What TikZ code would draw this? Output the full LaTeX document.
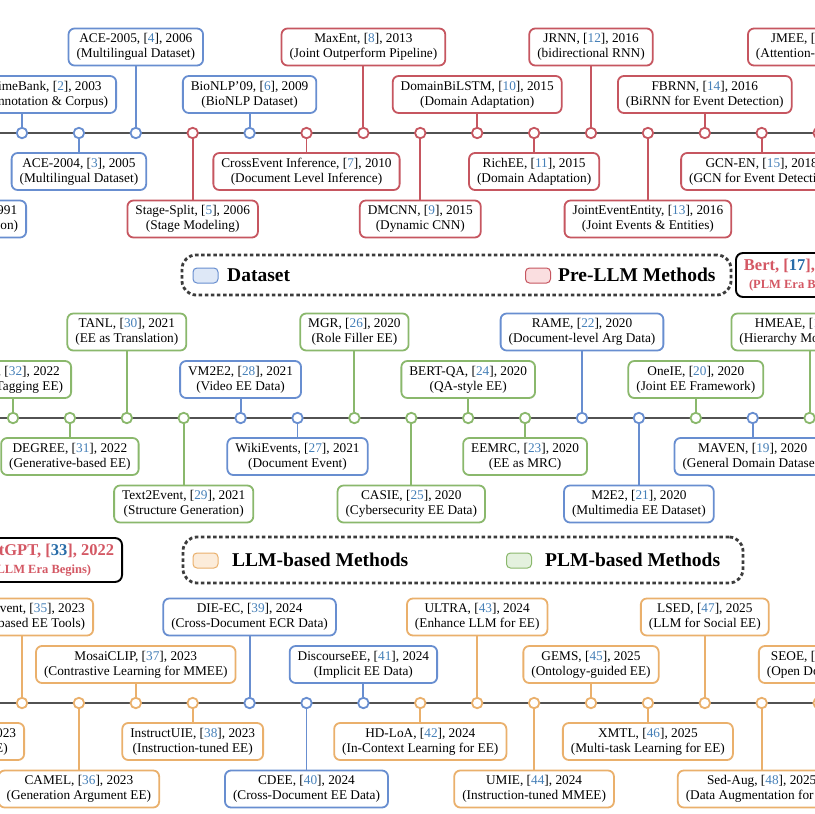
\documentclass[tikz,border=0pt]{standalone}
\usepackage{fontspec}
\setmainfont{Liberation Serif}
\definecolor{bluec}{RGB}{104,142,208}
\definecolor{redc}{RGB}{198,86,96}
\definecolor{greenc}{RGB}{138,184,108}
\definecolor{orangec}{RGB}{234,176,108}
\definecolor{bluefill}{RGB}{222,232,247}
\definecolor{redfill}{RGB}{250,222,224}
\definecolor{greenfill}{RGB}{228,241,222}
\definecolor{orangefill}{RGB}{252,236,218}
\definecolor{citec}{RGB}{70,128,184}
\definecolor{citedark}{RGB}{40,108,168}
\definecolor{redtxt}{RGB}{212,88,100}
\definecolor{linec}{RGB}{82,82,82}
\definecolor{legc}{RGB}{60,60,60}
\newcommand\evfont{\fontsize{13.3}{15.2}\selectfont}
\newcommand\cn[1]{[\textcolor{citec}{#1}]}
% name, dotx, liney, dy, colour, extra options, box x, text, anchor
\newcommand\ev[9]{%
  \node[evbox=#5,#6] (#1) at ({#7},{#3+(#4)}) {#8};
  \node[evdot=#5] (#1d) at ({#2},{#3}) {};
  \draw[conn=#5] (#1d) -- (#1d |- #1.#9);
}
\newcommand\evN[7]{\ev{#1}{#2}{#3}{#4}{#5}{}{#2}{#6}{#7}}
\tikzset{
  evbox/.style={draw=#1, line width=1.8pt, rounded corners=6pt, fill=white,
    align=center, inner xsep=8pt, inner ysep=0pt, minimum height=37pt, font=\evfont},
  evdot/.style={circle, draw=#1, line width=1.8pt, fill=white, inner sep=0pt, minimum size=10.5pt},
  conn/.style={draw=#1, line width=1.9pt},
  tline/.style={draw=linec, line width=2.3pt},
  legbox/.style={draw=legc, line width=2.8pt, dash pattern=on 3.5pt off 2.6pt, rounded corners=14pt},
  swatch/.style={draw=#1, line width=1pt, rounded corners=4pt, minimum width=25pt, minimum height=15pt, inner sep=0pt},
  legtext/.style={font=\bfseries\fontsize{19.5}{22}\selectfont, inner sep=0pt, anchor=west},
  erabox/.style={draw=black, line width=1.9pt, rounded corners=7pt, align=center,
    inner xsep=8pt, inner ysep=0pt, minimum height=44pt, font=\bfseries\fontsize{16.5}{19}\selectfont},
}
\begin{document}
\begin{tikzpicture}[x=1pt,y=-1pt]
\useasboundingbox (0,0) rectangle (815,814);
\fill[white] (0,0) rectangle (815,814);
\clip (0,0) rectangle (815,814);
% timelines
\coordinate (a1) at (-120,133); \coordinate (b1) at (935,133);
\coordinate (a2) at (-120,418); \coordinate (b2) at (935,418);
\coordinate (a3) at (-120,703); \coordinate (b3) at (935,703);
\draw[tline] (a1) -- (b1);
\draw[tline] (a2) -- (b2);
\draw[tline] (a3) -- (b3);
% ---------- row 1 ----------
\ev{muc}{-34.9}{133}{86}{bluec}{anchor=east}{27}{MUC-3, \cn{1}, 1991\\(Event Extraction)}{north}
\ev{timebank}{22}{133}{-38.5}{bluec}{anchor=east}{117}{TimeBank, \cn{2}, 2003\\(Annotation \& Corpus)}{south}
\evN{acefour}{78.9}{133}{38.5}{bluec}{ACE-2004, \cn{3}, 2005\\(Multilingual Dataset)}{north}
\evN{acefive}{135.8}{133}{-86}{bluec}{ACE-2005, \cn{4}, 2006\\(Multilingual Dataset)}{south}
\evN{stage}{192.7}{133}{86}{redc}{Stage-Split, \cn{5}, 2006\\(Stage Modeling)}{north}
\evN{bionlp}{249.6}{133}{-38.5}{bluec}{BioNLP'09, \cn{6}, 2009\\(BioNLP Dataset)}{south}
\evN{crossev}{306.5}{133}{38.5}{redc}{CrossEvent Inference, \cn{7}, 2010\\(Document Level Inference)}{north}
\evN{maxent}{363.4}{133}{-86}{redc}{MaxEnt, \cn{8}, 2013\\(Joint Outperform Pipeline)}{south}
\evN{dmcnn}{420.3}{133}{86}{redc}{DMCNN, \cn{9}, 2015\\(Dynamic CNN)}{north}
\evN{dombil}{477.2}{133}{-38.5}{redc}{DomainBiLSTM, \cn{10}, 2015\\(Domain Adaptation)}{south}
\evN{richee}{534.1}{133}{38.5}{redc}{RichEE, \cn{11}, 2015\\(Domain Adaptation)}{north}
\evN{jrnn}{591}{133}{-86}{redc}{JRNN, \cn{12}, 2016\\(bidirectional RNN)}{south}
\evN{jee}{647.9}{133}{86}{redc}{JointEventEntity, \cn{13}, 2016\\(Joint Events \& Entities)}{north}
\evN{fbrnn}{704.8}{133}{-38.5}{redc}{FBRNN, \cn{14}, 2016\\(BiRNN for Event Detection)}{south}
\evN{gcnen}{761.7}{133}{38.5}{redc}{GCN-EN, \cn{15}, 2018\\(GCN for Event Detection)}{north}
\evN{jmee}{818.6}{133}{-86}{redc}{JMEE, \cn{16}, 2018\\(Attention-based GCN)}{south}
% ---------- legend 1 ----------
\node[legbox, minimum width=549pt, minimum height=40pt] (leg1) at (456.5,275) {};
\node[swatch=bluec, fill=bluefill] (sw1) at (205.5,275.5) {};
\node[legtext] (lt1) at (227,275) {Dataset};
\node[swatch=redc, fill=redfill] (sw2) at (538,275.5) {};
\node[legtext] (lt2) at (558,275) {Pre-LLM Methods};
\node[erabox, anchor=west] (bert) at (735,275) {\textcolor{redtxt}{Bert, [}\textcolor{citedark}{17}\textcolor{redtxt}{], 2018}\\[-1pt]{\fontsize{12.5}{14}\selectfont\textcolor{redtxt}{(PLM Era Begins)}}};
% ---------- row 2 ----------
\ev{seqtag}{13}{418}{-38.5}{greenc}{anchor=east}{72}{Seq2Event, \cn{32}, 2022\\(Sequence Tagging EE)}{south}
\evN{degree}{69.9}{418}{38.5}{greenc}{DEGREE, \cn{31}, 2022\\(Generative-based EE)}{north}
\evN{tanl}{126.8}{418}{-86}{greenc}{TANL, \cn{30}, 2021\\(EE as Translation)}{south}
\evN{texttwo}{183.7}{418}{86}{greenc}{Text2Event, \cn{29}, 2021\\(Structure Generation)}{north}
\evN{vmee}{240.6}{418}{-38.5}{bluec}{VM2E2, \cn{28}, 2021\\(Video EE Data)}{south}
\evN{wiki}{297.5}{418}{38.5}{bluec}{WikiEvents, \cn{27}, 2021\\(Document Event)}{north}
\evN{mgr}{354.4}{418}{-86}{greenc}{MGR, \cn{26}, 2020\\(Role Filler EE)}{south}
\evN{casie}{411.3}{418}{86}{greenc}{CASIE, \cn{25}, 2020\\(Cybersecurity EE Data)}{north}
\evN{bertqa}{468.2}{418}{-38.5}{greenc}{BERT-QA, \cn{24}, 2020\\(QA-style EE)}{south}
\evN{eemrc}{525.1}{418}{38.5}{greenc}{EEMRC, \cn{23}, 2020\\(EE as MRC)}{north}
\evN{rame}{582}{418}{-86}{bluec}{RAME, \cn{22}, 2020\\(Document-level Arg Data)}{south}
\evN{mtwoetwo}{638.9}{418}{86}{bluec}{M2E2, \cn{21}, 2020\\(Multimedia EE Dataset)}{north}
\evN{oneie}{695.8}{418}{-38.5}{greenc}{OneIE, \cn{20}, 2020\\(Joint EE Framework)}{south}
\evN{maven}{752.7}{418}{38.5}{bluec}{MAVEN, \cn{19}, 2020\\(General Domain Dataset)}{north}
\evN{hmeae}{809.6}{418}{-86}{greenc}{HMEAE, \cn{18}, 2019\\(Hierarchy Modular EAE)}{south}
% ---------- legend 2 ----------
\node[erabox, anchor=east] (gpt) at (123,560) {\textcolor{redtxt}{ChatGPT, [}\textcolor{citedark}{33}\textcolor{redtxt}{], 2022}\\[-1pt]{\fontsize{12.5}{14}\selectfont\textcolor{redtxt}{(LLM Era Begins)}}};
\node[legbox, minimum width=560pt, minimum height=46pt] (leg2) at (463,560) {};
\node[swatch=orangec, fill=orangefill] (sw3) at (205.5,560.5) {};
\node[legtext] (lt3) at (232,560) {LLM-based Methods};
\node[swatch=greenc, fill=greenfill] (sw4) at (519,560.5) {};
\node[legtext] (lt4) at (545,560) {PLM-based Methods};
% ---------- row 3 ----------
\ev{codeie}{-34.9}{703}{38.5}{orangec}{anchor=east}{25}{CodeIE, \cn{34}, 2023\\(Code-style EE)}{north}
\ev{omni}{22}{703}{-86}{orangec}{anchor=east}{94}{OmniEvent, \cn{35}, 2023\\(LLM-based EE Tools)}{south}
\evN{camel}{78.9}{703}{86}{orangec}{CAMEL, \cn{36}, 2023\\(Generation Argument EE)}{north}
\evN{mosaic}{135.8}{703}{-38.5}{orangec}{MosaiCLIP, \cn{37}, 2023\\(Contrastive Learning for MMEE)}{south}
\evN{instr}{192.7}{703}{38.5}{orangec}{InstructUIE, \cn{38}, 2023\\(Instruction-tuned EE)}{north}
\evN{dieec}{249.6}{703}{-86}{bluec}{DIE-EC, \cn{39}, 2024\\(Cross-Document ECR Data)}{south}
\evN{cdee}{306.5}{703}{86}{bluec}{CDEE, \cn{40}, 2024\\(Cross-Document EE Data)}{north}
\evN{disc}{363.4}{703}{-38.5}{bluec}{DiscourseEE, \cn{41}, 2024\\(Implicit EE Data)}{south}
\evN{hdloa}{420.3}{703}{38.5}{orangec}{HD-LoA, \cn{42}, 2024\\(In-Context Learning for EE)}{north}
\evN{ultra}{477.2}{703}{-86}{orangec}{ULTRA, \cn{43}, 2024\\(Enhance LLM for EE)}{south}
\evN{umie}{534.1}{703}{86}{orangec}{UMIE, \cn{44}, 2024\\(Instruction-tuned MMEE)}{north}
\evN{gems}{591}{703}{-38.5}{orangec}{GEMS, \cn{45}, 2025\\(Ontology-guided EE)}{south}
\evN{xmtl}{647.9}{703}{38.5}{orangec}{XMTL, \cn{46}, 2025\\(Multi-task Learning for EE)}{north}
\evN{lsed}{704.8}{703}{-86}{orangec}{LSED, \cn{47}, 2025\\(LLM for Social EE)}{south}
\evN{sedaug}{761.7}{703}{86}{orangec}{Sed-Aug, \cn{48}, 2025\\(Data Augmentation for EE)}{north}
\evN{seoe}{818.6}{703}{-38.5}{orangec}{SEOE, \cn{49}, 2025\\(Open Domain EE)}{south}
\end{tikzpicture}
\end{document}
